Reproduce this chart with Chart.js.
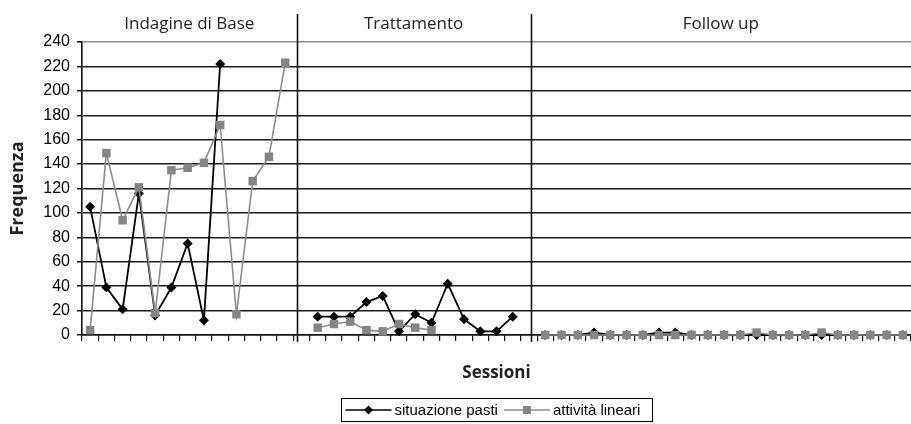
<!DOCTYPE html>
<html lang="it">
<head>
  <meta charset="UTF-8">
  <title>Frequenza per sessione</title>
  <script src="https://cdn.jsdelivr.net/npm/chart.js"></script>
  <style>
    body { margin: 0; background: #fff; }
    .wrap { width: 911px; height: 424px; }
  </style>
</head>
<body>
<div class="wrap"><canvas id="chart" width="911" height="424"></canvas></div>
<script>
  // fasi dello studio e sessioni (etichette non mostrate sull'asse)
  const fasi = ['Indagine di Base', 'Trattamento', 'Follow up'];
  const sessioniBase = ['1', '2', '3', '4', '5', '6', '7', '8', '9', '10', '11', '12', '13'];
  const sessioniTratt = ['1', '2', '3', '4', '5', '6', '7', '8', '9', '10', '11', '12', '13'];
  const sessioniFollow = ['1', '2', '3', '4', '5', '6', '7', '8', '9', '10', '11', '12',
                          '13', '14', '15', '16', '17', '18', '19', '20', '21', '22', '23'];

  // situazione pasti
  const pastiBase = [105, 39, 21, 116, 16, 39, 75, 12, 222, null, null, null, null];
  const pastiTratt = [15, 15, 15, 27, 32, 3, 17, 10, 42, 13, 3, 3, 15];
  const pastiFollow = [0, 0, 0, 2, 0, 0, 0, 2, 2, 0, 0, 0, 0, 0, 0, 0, 0, 0, 0, 0, 0, 0, 0];

  // attività lineari
  const attivitaBase = [4, 149, 94, 121, 18, 135, 137, 141, 172, 17, 126, 146, 223];
  const attivitaTratt = [6, 9, 11, 4, 3, 9, 6, 4, null, null, null, null, null];
  const attivitaFollow = [0, 0, 0, 0, 0, 0, 0, 0, 0, 0, 0, 0, 0, 2, 0, 0, 0, 2, 0, 0, 0, 0, 0];

  const yTicks = [0, 20, 40, 60, 80, 100, 120, 140, 160, 180, 200, 220, 240];

  // one empty category between phases
  const labels = [...sessioniBase, '', ...sessioniTratt, '', ...sessioniFollow];
  const pasti = [...pastiBase, null, ...pastiTratt, null, ...pastiFollow];
  const attivita = [...attivitaBase, null, ...attivitaTratt, null, ...attivitaFollow];

  const separatori = [12.7, 27.1];
  const sans = "'Liberation Sans', Arial, sans-serif";
  const humanist = "'Open Sans', 'Noto Sans', sans-serif";

  const panels = {
    id: 'panels',
    afterDraw(chart) {
      const { ctx, chartArea, scales: { x } } = chart;
      const xs = separatori.map(v => x.getPixelForValue(v));
      const edges = [chartArea.left, ...xs, chartArea.right];
      ctx.save();
      ctx.strokeStyle = '#111';
      ctx.lineWidth = 1.6;
      xs.forEach(px => {
        ctx.beginPath();
        ctx.moveTo(Math.round(px) + 0.5, 14);
        ctx.lineTo(Math.round(px) + 0.5, chartArea.bottom + 7);
        ctx.stroke();
      });
      ctx.fillStyle = '#222';
      ctx.font = "17px " + humanist;
      ctx.textAlign = 'center';
      ctx.textBaseline = 'middle';
      fasi.forEach((f, i) => ctx.fillText(f, (edges[i] + edges[i + 1]) / 2, 24));

      // legend
      ctx.font = "15px " + sans;
      const keyW = 46, gap = 3;
      const names = chart.data.datasets.map(d => d.label);
      const widths = names.map(n => ctx.measureText(n).width);
      const total = 8 + keyW + gap + widths[0] + 6 + keyW + gap + widths[1] + 8;
      const cx = (chartArea.left + chartArea.right) / 2;
      let lx = Math.round(cx - total / 2) + 0.5;
      const ly = 398.5, lh = 23;
      ctx.strokeStyle = '#000';
      ctx.lineWidth = 1;
      ctx.strokeRect(lx, ly, Math.round(total), lh);
      let px = lx + 4;
      const my = ly + lh / 2;
      chart.data.datasets.forEach((d, i) => {
        ctx.strokeStyle = d.borderColor;
        ctx.lineWidth = 1.5;
        ctx.beginPath();
        ctx.moveTo(px, my);
        ctx.lineTo(px + keyW, my);
        ctx.stroke();
        ctx.fillStyle = d.backgroundColor;
        if (d.pointStyle === 'rectRot') {
          ctx.beginPath();
          ctx.moveTo(px + keyW / 2, my - 4.5);
          ctx.lineTo(px + keyW / 2 + 4.5, my);
          ctx.lineTo(px + keyW / 2, my + 4.5);
          ctx.lineTo(px + keyW / 2 - 4.5, my);
          ctx.closePath();
          ctx.fill();
        } else {
          ctx.fillRect(px + keyW / 2 - 4, my - 4, 8, 8);
        }
        ctx.fillStyle = '#000';
        ctx.textAlign = 'left';
        ctx.fillText(d.label, px + keyW + gap, my + 1);
        px += keyW + gap + widths[i] + 6;
      });
      ctx.restore();
    }
  };

  new Chart(document.getElementById('chart'), {
    type: 'line',
    data: {
      labels: labels,
      datasets: [
        {
          label: 'situazione pasti',
          data: pasti,
          borderColor: '#000',
          backgroundColor: '#000',
          borderWidth: 1.8,
          pointStyle: 'rectRot',
          pointRadius: 5,
          pointBorderWidth: 0,
          order: 1,
          clip: false
        },
        {
          label: 'attività lineari',
          data: attivita,
          borderColor: '#8c8c8c',
          backgroundColor: '#858585',
          borderWidth: 1.6,
          pointStyle: 'rect',
          pointRadius: 6,
          pointBorderWidth: 0,
          order: 0,
          clip: false
        }
      ]
    },
    options: {
      responsive: false,
      animation: false,
      layout: { autoPadding: false, padding: { top: 42, right: 0, bottom: 0, left: 0 } },
      plugins: { legend: { display: false }, tooltip: { enabled: false } },
      scales: {
        x: {
          type: 'category',
          offset: true,
          afterFit: s => { s.height = 89; },
          grid: { drawOnChartArea: false, offset: true, tickLength: 6, color: '#111', lineWidth: 1.2 },
          border: { display: true, color: '#111', width: 1.6 },
          ticks: { display: false },
          title: {
            display: true,
            text: 'Sessioni',
            color: '#222',
            font: { family: humanist, size: 17, weight: 'bold' },
            padding: { top: 0, bottom: 41 }
          }
        },
        y: {
          min: 0,
          max: 240,
          afterFit: s => { s.width = 82; },
          afterBuildTicks: s => { s.ticks = yTicks.map(v => ({ value: v })); },
          grid: {
            color: c => (c.tick && c.tick.value === 240 ? '#8a8a8a' : '#1a1a1a'),
            tickColor: '#111',
            tickLength: 5,
            lineWidth: 1.5
          },
          border: { display: true, color: '#111', width: 1.6 },
          ticks: {
            color: '#000',
            padding: 7,
            font: { family: sans, size: 16 }
          },
          title: {
            display: true,
            text: 'Frequenza',
            color: '#222',
            font: { family: humanist, size: 18, weight: 'bold' },
            padding: { top: 7, bottom: 0 }
          }
        }
      }
    },
    plugins: [panels]
  });
</script>
</body>
</html>
